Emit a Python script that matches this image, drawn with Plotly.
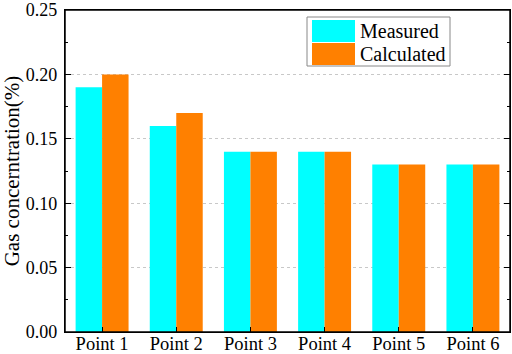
import plotly.graph_objects as go

categories = ["Point 1", "Point 2", "Point 3", "Point 4", "Point 5", "Point 6"]
measured = [0.19, 0.16, 0.14, 0.14, 0.13, 0.13]
calculated = [0.20, 0.17, 0.14, 0.14, 0.13, 0.13]
series_names = ["Measured", "Calculated"]
colors = ["#00FFFF", "#FF8000"]
y_ticks = [0.0, 0.05, 0.10, 0.15, 0.20, 0.25]
y_ticktext = ["0.00", "0.05", "0.10", "0.15", "0.20", "0.25"]

W, H = 512, 354
ml, mr, mt, mb = 65, 2, 10, 22

fig = go.Figure()
for name, vals, c in zip(series_names, [measured, calculated], colors):
    fig.add_trace(go.Bar(x=categories, y=vals, name=name, marker_color=c,
                         marker_line_width=0, showlegend=False))

font = "Liberation Serif, Times New Roman, serif"
fig.update_layout(
    width=W, height=H, margin=dict(l=ml, r=mr, t=mt, b=mb),
    barmode="group", bargap=0.286, bargroupgap=0,
    plot_bgcolor="white", paper_bgcolor="white",
    font=dict(family=font, size=18, color="black"),
)
fig.update_xaxes(showline=True, linecolor="black", linewidth=1.3, mirror=True,
                 ticks="inside", ticklen=5, tickcolor="black", showgrid=False,
                 tickfont=dict(size=18.5), automargin=False, ticklabelstandoff=-5,
                 ticklabeloverflow="allow")
fig.update_yaxes(range=[0, 0.25], tickvals=y_ticks, ticktext=y_ticktext,
                 showline=True, linecolor="black", linewidth=1.3, mirror="ticks",
                 ticks="inside", ticklen=6, tickcolor="black",
                 minor=dict(tickvals=[0.025, 0.075, 0.125, 0.175, 0.225],
                            ticks="inside", ticklen=3, tickcolor="black"),
                 showgrid=True, gridcolor="#C8C8C8", griddash="dot", gridwidth=1,
                 zeroline=False, tickfont=dict(size=18), automargin=False,
                 ticklabelstandoff=3, ticklabeloverflow="allow",
                 title=dict(text="Gas concerntration(%)", font=dict(size=21), standoff=4))

pw, ph = W - ml - mr, H - mt - mb
def px(x): return (x - ml) / pw
def py(y): return 1 - (y - mt) / ph

# plot frame
fig.add_shape(type="rect", xref="paper", yref="paper", x0=0, x1=1, y0=0, y1=1,
              line=dict(color="black", width=1.5), fillcolor="rgba(0,0,0,0)")

# legend box drawn in paper coordinates
fig.add_shape(type="rect", xref="paper", yref="paper",
              x0=px(307), x1=px(450), y0=py(66), y1=py(17),
              line=dict(color="#888888", width=1), fillcolor="white")
for i, (name, c) in enumerate(zip(series_names, colors)):
    y0, y1 = 20 + i * 23, 42 + i * 23
    fig.add_shape(type="rect", xref="paper", yref="paper",
                  x0=px(312), x1=px(355), y0=py(y1), y1=py(y0),
                  line=dict(width=0), fillcolor=c)
    fig.add_annotation(xref="paper", yref="paper", x=px(358), y=py((y0 + y1) / 2),
                       text=name, showarrow=False, xanchor="left", yanchor="middle",
                       font=dict(size=20, family=font, color="black"))

fig.write_html("out.html", config={"displayModeBar": False},
               post_script="document.body.style.margin='0';document.body.style.overflow='hidden';")
